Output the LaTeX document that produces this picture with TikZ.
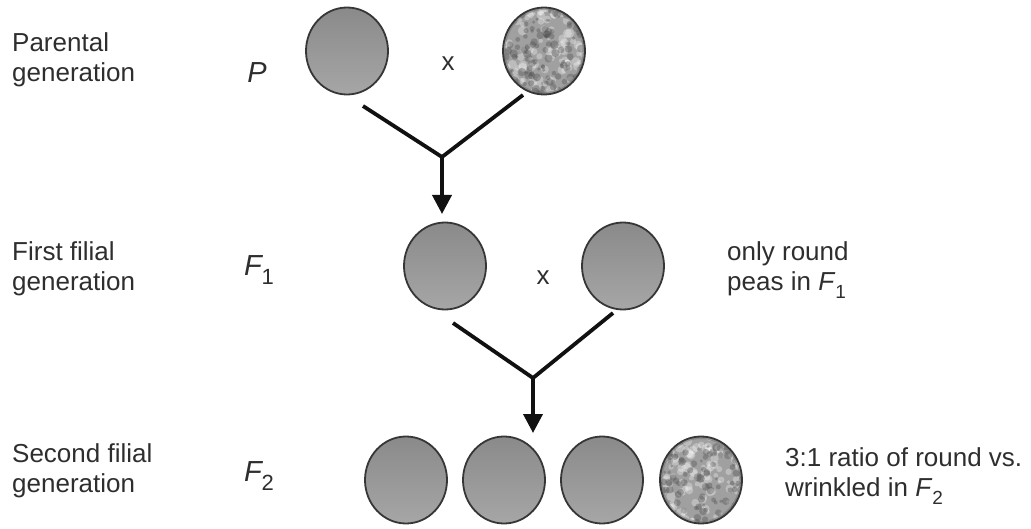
\documentclass[tikz,border=0pt]{standalone}
\usepackage{fontspec}
\setmainfont{Liberation Sans}
\usetikzlibrary{shapes.geometric,arrows.meta}
\definecolor{txt}{HTML}{2E2E2E}
\definecolor{peaedge}{HTML}{363636}
\definecolor{peatop}{HTML}{8A8A8A}
\definecolor{peabot}{HTML}{A6A6A6}
\definecolor{wrbase}{HTML}{A0A0A0}
\definecolor{linec}{HTML}{111111}
\newcommand{\bigsub}[1]{\raisebox{-0.3em}{\upshape\fontsize{22}{22}\selectfont #1}}
\newcommand{\smallsub}[1]{\raisebox{-0.28em}{\upshape\fontsize{19}{19}\selectfont #1}}
\begin{document}
\begin{tikzpicture}[x=1pt,y=-1pt,
  lbl/.style={font=\fontsize{26}{30}\selectfont, text=txt, align=left, anchor=west, inner sep=0pt},
  gen/.style={font=\fontsize{29}{30}\selectfont\itshape, text=txt, inner sep=0pt},
  cross/.style={font=\fontsize{26}{30}\selectfont, text=txt, inner sep=0pt},
  peabase/.style={ellipse, draw=peaedge, line width=1.8pt, minimum width=82pt, minimum height=87pt, inner sep=0pt},
  pea/.style={peabase, top color=peatop, bottom color=peabot},
  wrinkled/.style={peabase, fill=wrbase, path picture={
    \begin{scope}[shift={(path picture bounding box.center)}]
      \foreach \i in {1,...,140}{
        \pgfmathsetmacro{\px}{rand*44}
        \pgfmathsetmacro{\py}{rand*46}
        \pgfmathsetmacro{\pr}{1.8+3*rnd}
        \fill[white, opacity=0.3] (\px,\py) circle[radius=\pr];
      }
      \foreach \i in {1,...,130}{
        \pgfmathsetmacro{\px}{rand*44}
        \pgfmathsetmacro{\py}{rand*46}
        \pgfmathsetmacro{\pr}{1.5+2.8*rnd}
        \fill[black!70!white, opacity=0.35] (\px,\py) circle[radius=\pr];
      }
      \draw[peaedge!70, line width=3pt, opacity=0.5] (0,0) ellipse[x radius=40, y radius=42.5];
    \end{scope}}},
  conn/.style={draw=linec, line width=3.8pt, line join=round},
  arr/.style={-{Triangle[width=19pt,length=19pt]}}
]
\pgfmathsetseed{12}
\useasboundingbox (0,0) rectangle (1031,529);

% labels
\node[lbl] (lp) at (12,60) {Parental\\generation};
\node[lbl] (lf1) at (12,269) {First filial\\generation};
\node[lbl] (lf2) at (12,471) {Second filial\\generation};
\node[gen] (gp) at (257,73) {P};
\node[gen] (gf1) at (259,270) {F\bigsub{1}};
\node[gen] (gf2) at (259,476) {F\bigsub{2}};

% P generation
\node[pea] (p1) at (347,51) {};
\node[wrinkled] (p2) at (544,51) {};
\node[cross] (px) at (448,64) {x};

% F1 generation
\node[pea] (f1a) at (445,266) {};
\node[pea] (f1b) at (623,266) {};
\node[cross] (fx) at (543,278) {x};
\node[lbl] (r1) at (727,270) {only round\\peas in \textit{F}\smallsub{1}};

% F2 generation
\node[pea] (f2a) at (406,480) {};
\node[pea] (f2b) at (504,480) {};
\node[pea] (f2c) at (602,480) {};
\node[wrinkled] (f2d) at (701,480) {};
\node[lbl] (r2) at (785,476) {3:1 ratio of round vs.\\wrinkled in \textit{F}\smallsub{2}};

% connectors
\coordinate (a1) at (363,106);
\coordinate (b1) at (523,95);
\coordinate (j1) at (442,157);
\coordinate (t1) at (442,214);
\draw[conn] (a1) -- (j1) -- (b1);
\draw[conn,arr] (j1) -- (t1);

\coordinate (a2) at (453,323);
\coordinate (b2) at (613,313);
\coordinate (j2) at (533,378);
\coordinate (t2) at (533,433);
\draw[conn] (a2) -- (j2) -- (b2);
\draw[conn,arr] (j2) -- (t2);
\end{tikzpicture}
\end{document}
